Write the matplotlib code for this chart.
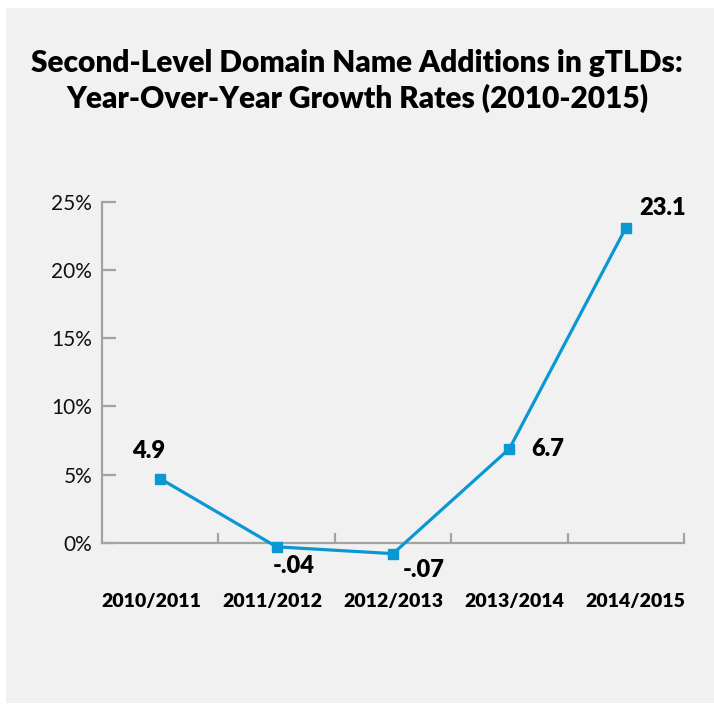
import matplotlib.pyplot as plt
from matplotlib.patches import Rectangle

# Daten
periods = ["2010/2011", "2011/2012", "2012/2013", "2013/2014", "2014/2015"]
growth = [4.7, -0.3, -0.8, 6.9, 23.1]          # positions as drawn in the chart
value_labels = ["4.9", "-.04", "-.07", "6.7", "23.1"]
y_ticks = [0, 5, 10, 15, 20, 25]
y_tick_labels = ["0%", "5%", "10%", "15%", "20%", "25%"]

LINE = "#0a98d4"
AXIS = "#a3a3a3"
plt.rcParams['font.family'] = ['Lato', 'DejaVu Sans']

fig = plt.figure(figsize=(7.14, 7.11), dpi=100, facecolor="white")
fig.add_artist(Rectangle((6 / 714, 1 - 703 / 711), 1, 695 / 711,
                         transform=fig.transFigure, facecolor="#f1f1f1",
                         edgecolor="none", zorder=-5))

fig.text(0.5, 1 - 81 / 711,
         "Second-Level Domain Name Additions in gTLDs:\nYear-Over-Year Growth Rates (2010-2015)",
         ha="center", va="center", fontsize=21.5, fontweight="heavy", linespacing=1.3)

ax = fig.add_axes([102 / 714, 1 - 570 / 711, (684 - 102) / 714, (570 - 202) / 711])
ax.set_facecolor("none")

x = list(range(len(periods)))
ax.plot(x, growth, color=LINE, linewidth=2.3, marker="s", markersize=7.5, zorder=3)

ax.set_xlim(-0.5, 4.5)
ax.set_ylim(-2, 25)

for side in ["top", "right"]:
    ax.spines[side].set_visible(False)
ax.spines["bottom"].set_position(("data", 0))
ax.spines["left"].set_bounds(0, 25)
for side in ["left", "bottom"]:
    ax.spines[side].set_color(AXIS)
    ax.spines[side].set_linewidth(1.6)

ax.set_yticks(y_ticks, y_tick_labels)
ax.tick_params(axis="y", direction="in", length=10, width=1.6, color=AXIS,
               labelsize=15, pad=7, labelcolor="#111111")

# Kategorien etwas weiter auseinander als die Punkte, wie im Original
label_pos = [2 + (i - 2) * 1.04 for i in x]
ax.set_xticks(label_pos, periods)
ax.tick_params(axis="x", which="major", length=0, pad=36, labelsize=14)
for lbl in ax.get_xticklabels():
    lbl.set_fontweight("heavy")
ax.set_xticks([0.5, 1.5, 2.5, 3.5, 4.5], minor=True)
ax.tick_params(axis="x", which="minor", direction="in", length=7, width=1.6, color=AXIS)

# Beschriftungen der Punkte
offsets = [(-8, 20, "center"), (12, -14, "center"), (22, -12, "center"),
           (16, 0, "left"), (10, 14, "left")]
for xi, yi, txt, (dx, dy, ha) in zip(x, growth, value_labels, offsets):
    ax.annotate(txt, (xi, yi), xytext=(dx, dy), textcoords="offset points",
                ha=ha, va="center", fontsize=17, fontweight="heavy")

plt.savefig("out.png", dpi=100)
